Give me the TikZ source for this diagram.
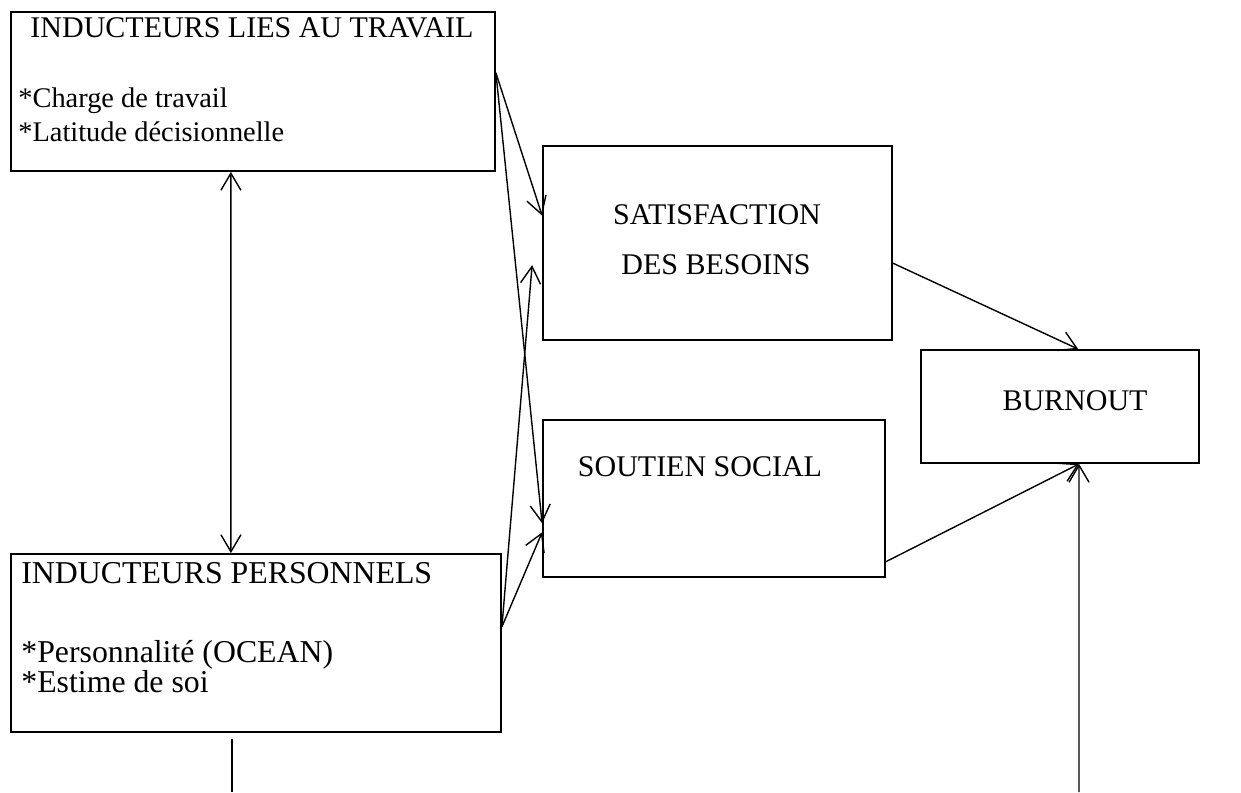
\documentclass[tikz,border=0pt]{standalone}
\usepackage{fontspec}
\setmainfont{Liberation Serif}
\usetikzlibrary{arrows.meta,calc}

\begin{document}
\begin{tikzpicture}[x=0.5pt,y=-0.5pt,
every node/.style={font=\fontsize{15}{18}\selectfont},
boite/.style={draw,line width=0.9pt,inner sep=0pt},
txt/.style={inner sep=0pt},
petit/.style={txt,font=\fontsize{14.2}{17}\selectfont},
grand/.style={txt,font=\fontsize{15.9}{19}\selectfont},
fleche/.style={line width=0.7pt,-{Straight Barb[length=8.5pt,width=10pt]}},
doublefleche/.style={line width=0.7pt,{Straight Barb[length=8.5pt,width=10pt]}-{Straight Barb[length=8.5pt,width=10pt]}}
]
\useasboundingbox (0,0) rectangle (1241,792);

% boites
\node[boite,minimum width=242pt,minimum height=79.5pt] (travail) at (253,91.5) {};
\node[boite,minimum width=174.5pt,minimum height=97pt] (besoins) at (717.5,243) {};
\node[boite,minimum width=171pt,minimum height=78.5pt] (soutien) at (714,498.5) {};
\node[boite,minimum width=139pt,minimum height=56.5pt] (burnout) at (1060,406.5) {};
\node[boite,minimum width=245pt,minimum height=89pt] (perso) at (256,643) {};

% textes
\node[txt,anchor=base] (travailTitre) at (252,38) {INDUCTEURS LIES AU TRAVAIL};
\node[petit,anchor=base west] (charge) at (18,107) {*Charge de travail};
\node[petit,anchor=base west] (latitude) at (18,141) {*Latitude décisionnelle};
\node[txt,anchor=base] (satisfaction) at (717,224) {SATISFACTION};
\node[txt,anchor=base] (desBesoins) at (716,274) {DES BESOINS};
\node[txt,anchor=base] (soutienTitre) at (700,476) {SOUTIEN SOCIAL};
\node[txt,anchor=base] (burnoutTitre) at (1075,410) {BURNOUT};
\node[grand,anchor=base west] (persoTitre) at (21,583) {INDUCTEURS PERSONNELS};
\node[grand,anchor=base west] (ocean) at (21,662) {*Personnalité (OCEAN)};
\node[grand,anchor=base west] (estime) at (21,692) {*Estime de soi};

% bouts libres
\coordinate (basBurnout) at (1079,792);
\coordinate (basPerso) at (232,739);
\coordinate (basPage) at (232,792);

% fleches
\draw[fleche] ($(travail.north east)!0.384!(travail.south east)$) -- ($(besoins.north west)!0.36!(besoins.south west)$);
\draw[fleche] ($(travail.north east)!0.384!(travail.south east)$) -- ($(soutien.north west)!0.656!(soutien.south west)$);
\draw[fleche] ($(perso.north east)!0.41!(perso.south east)$) -- ($(besoins.north west)!0.613!(besoins.south west)+(-10,0)$);
\draw[fleche] ($(perso.north east)!0.41!(perso.south east)$) -- ($(soutien.north west)!0.713!(soutien.south west)$);
\draw[fleche] ($(besoins.north east)!0.603!(besoins.south east)$) -- ($(burnout.north west)!0.565!(burnout.north east)$);
\draw[fleche] ($(soutien.north east)!0.898!(soutien.south east)$) -- ($(burnout.south west)!0.568!(burnout.south east)$);
\draw[fleche] (basBurnout) -- ($(burnout.south west)!0.568!(burnout.south east)$);
\draw[doublefleche] ($(travail.south west)!0.4545!(travail.south east)$) -- ($(perso.north west)!0.449!(perso.north east)$);
\draw[line width=1.4pt] (basPerso) -- (basPage); % <- end
\end{tikzpicture}
\end{document}
